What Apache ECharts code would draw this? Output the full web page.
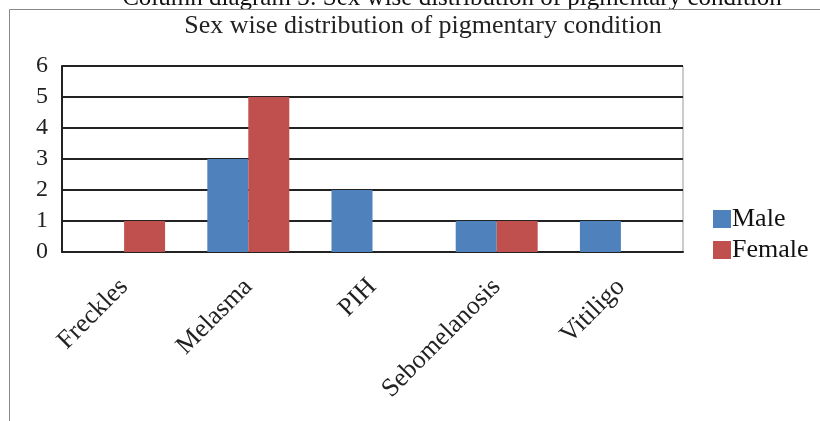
<!DOCTYPE html>
<html><head><meta charset="utf-8">
<script src="https://cdn.jsdelivr.net/npm/echarts@6/dist/echarts.min.js"></script>
<style>html,body{margin:0;padding:0;background:#fff}#c{width:820px;height:421px}</style>
</head><body><div id="c"></div>
<script>
const categories = ["Freckles", "Melasma", "PIH", "Sebomelanosis", "Vitiligo"];
const maleValues = [0, 3, 2, 1, 1];
const femaleValues = [1, 5, 0, 1, 0];
const yTicks = [0, 1, 2, 3, 4, 5, 6];
const seriesNames = ["Male", "Female"];
const titleText = "Sex wise distribution of pigmentary condition";
const captionText = "Column diagram 3: Sex wise distribution of pigmentary condition";

const F = "'Liberation Serif', 'DejaVu Serif', serif";
const chart = echarts.init(document.getElementById('c'), null, {renderer: 'canvas'});
chart.setOption({
  animation: false,
  backgroundColor: '#fff',
  graphic: [
    {type: 'rect', shape: {x: 9.5, y: 9.5, width: 830, height: 430}, style: {fill: 'none', stroke: '#888', lineWidth: 1}, z: 0},
    {type: 'text', x: 452, y: 11, style: {text: captionText, font: '25px ' + F, fill: '#111', textAlign: 'center', textVerticalAlign: 'bottom'}, z: -1},
    {type: 'text', x: 423, y: 39, style: {text: titleText, font: '26px ' + F, fill: '#222', textAlign: 'center', textVerticalAlign: 'bottom'}, z: 1}
  ],
  legend: {
    orient: 'vertical', left: 708, top: 201, itemGap: 5,
    itemWidth: 18, itemHeight: 18, icon: 'rect',
    textStyle: {fontFamily: F, fontSize: 26, color: '#111', padding: [0, 0, 0, -4]},
    data: seriesNames
  },
  grid: {left: 62, top: 66, width: 621, height: 186, show: true, borderColor: '#999', borderWidth: 1},
  xAxis: {
    type: 'category', data: categories,
    axisLine: {lineStyle: {color: '#222', width: 2}},
    axisTick: {show: false},
    axisLabel: {rotate: 45, margin: 31, fontFamily: F, fontSize: 26, color: '#222'}
  },
  yAxis: {
    type: 'value', min: 0, max: 6, interval: 1,
    axisLine: {show: true, lineStyle: {color: '#222', width: 2}},
    axisTick: {show: false},
    axisLabel: {margin: 14, fontFamily: F, fontSize: 24, color: '#222'},
    splitLine: {lineStyle: {color: '#222', width: 2}}
  },
  series: [
    {name: seriesNames[0], type: 'bar', data: maleValues, barGap: '0%', barCategoryGap: '34%', itemStyle: {color: '#4F81BD'}},
    {name: seriesNames[1], type: 'bar', data: femaleValues, barGap: '0%', barCategoryGap: '34%', itemStyle: {color: '#C0504D'}}
  ]
});
</script></body></html>
